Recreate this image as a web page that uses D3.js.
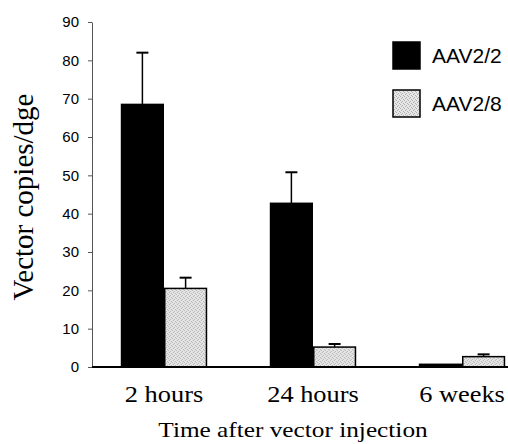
<!DOCTYPE html>
<html>
<head>
<meta charset="utf-8">
<script src="https://cdn.jsdelivr.net/npm/d3@7"></script>
<style>
  html, body { margin: 0; padding: 0; background: #fff; }
  svg { display: block; }
</style>
</head>
<body>
<svg id="chart" width="508" height="444"></svg>
<script>
// ---- data ----
const categories = ["2 hours", "24 hours", "6 weeks"];
const seriesNames = ["AAV2/2", "AAV2/8"];
const aav22Values = [68.5, 42.7, 0.7];
const aav22Errors = [13.5, 8.1, 0];
const aav28Values = [20.5, 5.2, 2.7];
const aav28Errors = [2.8, 0.8, 0.6];
const yTicks = [0, 10, 20, 30, 40, 50, 60, 70, 80, 90];
const yTitle = "Vector copies/dge";
const xTitle = "Time after vector injection";

const rows = categories.map((c, i) => ({
  cat: c,
  bars: [
    { s: seriesNames[0], v: aav22Values[i], e: aav22Errors[i] },
    { s: seriesNames[1], v: aav28Values[i], e: aav28Errors[i] }
  ]
}));

const svg = d3.select("#chart");
const serif = "'Liberation Serif','Times New Roman',Times,serif";
const sans = "'Liberation Sans',Arial,Helvetica,sans-serif";

// stipple pattern for the light bars
const defs = svg.append("defs");
const pat = defs.append("pattern").attr("id", "stipple")
  .attr("width", 4).attr("height", 4).attr("patternUnits", "userSpaceOnUse");
pat.append("rect").attr("width", 4).attr("height", 4).attr("fill", "#e6e6e6");
[[0,0],[2,1],[1,3],[3,2]].forEach(([x,y]) =>
  pat.append("rect").attr("x", x).attr("y", y).attr("width", 1).attr("height", 1).attr("fill", "#b0b0b0"));

const axisX = 92, y0px = 367, yTop = 22;

const y = d3.scaleLinear().domain([0, 90]).range([y0px, yTop]);
const x0 = d3.scaleBand().domain(categories).range([89.5, 536.5])
  .paddingInner(0.42).paddingOuter(0.21);
const x1 = d3.scaleBand().domain(seriesNames).range([0, x0.bandwidth()]).padding(0);
const fills = { "AAV2/2": "#000", "AAV2/8": "url(#stipple)" };

// y axis
const yAxis = svg.append("g").attr("transform", `translate(${axisX},0)`)
  .call(d3.axisLeft(y).tickValues(yTicks).tickSize(4).tickPadding(9).tickSizeOuter(0));
yAxis.select(".domain").attr("stroke", "#555").attr("stroke-width", 1);
yAxis.selectAll(".tick line").attr("stroke", "#555");
yAxis.selectAll("text").attr("font-family", sans).attr("font-size", 15).attr("fill", "#000");

// bars
const groups = svg.append("g").selectAll("g").data(rows).join("g")
  .attr("transform", d => `translate(${x0(d.cat)},0)`);

// error bars (upward only)
groups.selectAll("g.err").data(d => d.bars.filter(b => b.e > 0)).join("g").attr("class", "err")
  .each(function(b) {
    const g = d3.select(this);
    const cx = x1(b.s) + x1.bandwidth() / 2;
    g.append("line").attr("x1", cx).attr("x2", cx).attr("y1", y(b.v)).attr("y2", y(b.v + b.e))
      .attr("stroke", "#000").attr("stroke-width", 1.5);
    g.append("line").attr("x1", cx - 6).attr("x2", cx + 6).attr("y1", y(b.v + b.e)).attr("y2", y(b.v + b.e))
      .attr("stroke", "#000").attr("stroke-width", 2);
  });

groups.selectAll("rect").data(d => d.bars).join("rect")
  .attr("x", b => x1(b.s) + 0.75)
  .attr("width", x1.bandwidth() - 1.5)
  .attr("y", b => y(b.v))
  .attr("height", b => y(0) - y(b.v))
  .attr("fill", b => fills[b.s])
  .attr("stroke", "#000").attr("stroke-width", 1.5);

// x axis
const xAxis = svg.append("g").attr("transform", `translate(0,${y0px})`)
  .call(d3.axisBottom(x0).tickSize(0).tickPadding(22));
xAxis.select(".domain").attr("d", `M${axisX},0H508`).attr("stroke", "#000").attr("stroke-width", 2);
xAxis.selectAll("text").attr("font-family", serif).attr("font-size", 24).attr("fill", "#000")
  .attr("dy", 0).attr("y", 35).attr("transform", "scale(1.1,1)");

// axis titles
svg.append("text").attr("transform", `translate(293,437) scale(1.15,1)`)
  .attr("text-anchor", "middle").attr("font-family", serif).attr("font-size", 22).text(xTitle);
svg.append("text").attr("transform", `translate(33,197) rotate(-90)`)
  .attr("text-anchor", "middle").attr("font-family", serif).attr("font-size", 29).text(yTitle);

// legend
const legend = svg.append("g").selectAll("g").data(seriesNames).join("g")
  .attr("transform", (d, i) => `translate(393,${42 + i * 48})`);
legend.append("rect").attr("width", 27).attr("height", 27)
  .attr("fill", d => fills[d]).attr("stroke", "#000").attr("stroke-width", 1.5);
legend.append("text").attr("x", 39).attr("y", 21).attr("font-family", sans).attr("font-size", 21)
  .text(d => d);
</script>
</body>
</html>
